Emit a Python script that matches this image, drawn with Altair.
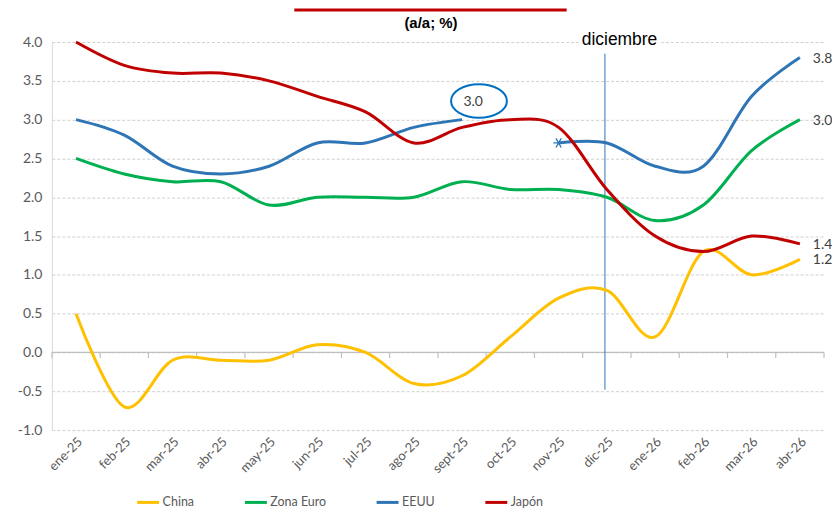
import altair as alt
import pandas as pd

months = ["ene-25", "feb-25", "mar-25", "abr-25", "may-25", "jun-25", "jul-25", "ago-25",
          "sept-25", "oct-25", "nov-25", "dic-25", "ene-26", "feb-26", "mar-26", "abr-26"]
series_names = ["China", "Zona Euro", "EEUU", "Japón"]
series_colors = ["#FFC000", "#00B050", "#2E75B6", "#C00000"]
china = [0.5, -0.7, -0.1, -0.1, -0.1, 0.1, 0.0, -0.4, -0.3, 0.2, 0.7, 0.8, 0.2, 1.3, 1.0, 1.2]
zona_euro = [2.5, 2.3, 2.2, 2.2, 1.9, 2.0, 2.0, 2.0, 2.2, 2.1, 2.1, 2.0, 1.7, 1.9, 2.6, 3.0]
eeuu = [3.0, 2.8, 2.4, 2.3, 2.4, 2.7, 2.7, 2.9, 3.0, None, 2.7, 2.7, 2.4, 2.4, 3.3, 3.8]
japon = [4.0, 3.7, 3.6, 3.6, 3.5, 3.3, 3.1, 2.7, 2.9, 3.0, 2.9, 2.1, 1.5, 1.3, 1.5, 1.4]
y_ticks = [-1.0, -0.5, 0.0, 0.5, 1.0, 1.5, 2.0, 2.5, 3.0, 3.5, 4.0]

FONT = "Lato"
HFONT = "Liberation Sans"
TXT = "#595959"

rows = []
for name, vals in zip(series_names, [china, zona_euro, eeuu, japon]):
    seg = 0
    for i, (m, v) in enumerate(zip(months, vals)):
        if v is None:
            seg += 1
            continue
        rows.append({"m": m, "i": i, "v": v, "s": name, "seg": f"{name}{seg}"})
df = pd.DataFrame(rows)

xscale = alt.Scale(type="band", domain=months, paddingInner=0, paddingOuter=0)
xaxis = alt.Axis(title=None, labelAngle=-45, labelFont=FONT, labelFontSize=13, labelColor=TXT,
                 ticks=False, domain=False, grid=False, labelPadding=5)
yscale = alt.Scale(domain=[-1, 4], nice=False, zero=False)
yaxis = alt.Axis(title=None, values=y_ticks, format=".1f",
                 labelExpr="replace(format(datum.value, '.1f'), '\u2212', '-')",
                 labelFont=FONT, labelFontSize=14, labelColor=TXT, ticks=False,
                 domain=True, domainColor="#d9d9d9", grid=True, gridColor="#d0d0d0",
                 gridDash=[3, 2], labelPadding=10)


def X(field="m", **kw):
    return alt.X(f"{field}:N", scale=xscale, axis=xaxis, sort=months, **kw)


def Y(field="v", **kw):
    return alt.Y(f"{field}:Q", scale=yscale, axis=yaxis, **kw)


# zero line with category ticks
zero = alt.Chart(pd.DataFrame({"y0": [0.0]})).mark_rule(color="#bfbfbf", strokeWidth=1.2).encode(
    y=Y("y0"))
tick_df = pd.DataFrame({"m": months, "y0": [0.0] * len(months), "y1": [-0.07] * len(months)})
ticks_l = alt.Chart(tick_df).mark_rule(color="#bfbfbf", strokeWidth=1.2).encode(
    x=X(bandPosition=0), y=Y("y0"), y2="y1:Q")
ticks_r = alt.Chart(tick_df.tail(1)).mark_rule(color="#bfbfbf", strokeWidth=1.2).encode(
    x=X(bandPosition=1), y=Y("y0"), y2="y1:Q")

# diciembre vertical line
vline = alt.Chart(pd.DataFrame({"m": ["dic-25"], "a": [3.85], "b": [-0.48]})).mark_rule(
    color="#2E75B6", strokeWidth=1).encode(x=X(bandPosition=0.46), y=Y("a"), y2="b:Q")

lines = alt.Chart(df).mark_line(interpolate="cardinal", strokeWidth=3).encode(
    x=X(), y=Y(),
    color=alt.Color("s:N", scale=alt.Scale(domain=series_names, range=series_colors),
                    legend=alt.Legend(orient="none", legendX=84, legendY=449, direction="horizontal",
                                      title=None, symbolType="stroke", symbolSize=484,
                                      symbolStrokeWidth=3, labelFont=FONT, labelFontSize=12.5,
                                      labelColor=TXT, columnPadding=44, labelOffset=2,
                                      labelLimit=200)),
    detail="seg:N", order="i:Q")

# asterisk marker at restart of EEUU
star = alt.Chart(pd.DataFrame({"m": ["nov-25"], "v": [eeuu[10]]})).mark_point(
    shape="M-1,0L1,0M-0.5,-0.866L0.5,0.866M-0.5,0.866L0.5,-0.866", size=110, filled=False,
    color="#2E75B6", strokeWidth=1.3, opacity=1).encode(x=X(), y=Y())

# ellipse annotation
ell = alt.Chart(pd.DataFrame({"m": ["sept-25"], "v": [3.24]})).mark_point(
    shape="M-1,0A1,0.6,0,1,0,1,0A1,0.6,0,1,0,-1,0Z", size=3136, filled=False,
    color="#0070C0", strokeWidth=2, opacity=1).encode(x=X(bandPosition=0.85), y=Y())
ell_txt = alt.Chart(pd.DataFrame({"m": ["sept-25"], "v": [3.23], "t": ["3.0"]})).mark_text(
    font=FONT, fontSize=14, color="#404040").encode(x=X(bandPosition=0.73), y=Y(), text="t:N")

# end labels
end_df = pd.DataFrame({"m": [months[-1]] * 4,
                       "v": [china[-1], zona_euro[-1], eeuu[-1], japon[-1]],
                       "t": [f"{v:.1f}" for v in [china[-1], zona_euro[-1], eeuu[-1], japon[-1]]]})
end_lbl = alt.Chart(end_df).mark_text(align="left", baseline="middle", dx=13, dy=1, font=FONT,
                                      fontSize=14, color="#404040").encode(x=X(), y=Y(), text="t:N")

# header decorations
red_bar = alt.Chart(pd.DataFrame({"k": [0]})).mark_rule(color="#C00000", strokeWidth=3).encode(
    x=alt.value(243), x2=alt.value(516), y=alt.value(-32))
title_txt = alt.Chart(pd.DataFrame({"t": ["(a/a; %)"]})).mark_text(
    font=HFONT, fontWeight="bold", fontSize=15, color="#000000",
    baseline="middle").encode(x=alt.value(380), y=alt.value(-19), text="t:N")
dic_bg = alt.Chart(pd.DataFrame({"k": [0]})).mark_rect(color="white").encode(
    x=alt.value(528), x2=alt.value(611), y=alt.value(-9), y2=alt.value(5))
dic_txt = alt.Chart(pd.DataFrame({"t": ["diciembre"]})).mark_text(
    font=HFONT, fontSize=17.5, color="#000000", baseline="middle").encode(
    x=alt.value(569), y=alt.value(-2), text="t:N")

chart = alt.layer(zero, ticks_l, ticks_r, vline, lines, star, ell, ell_txt, end_lbl,
                  red_bar, title_txt, dic_bg, dic_txt).properties(
    width=774, height=389,
    autosize=alt.AutoSizeParams(type="none"),
    padding={"left": 44, "top": 33.5, "right": 8, "bottom": 78.5},
    background="white",
).configure_view(stroke=None)

chart.save("out.html", embed_options={"renderer": "svg", "actions": False})
